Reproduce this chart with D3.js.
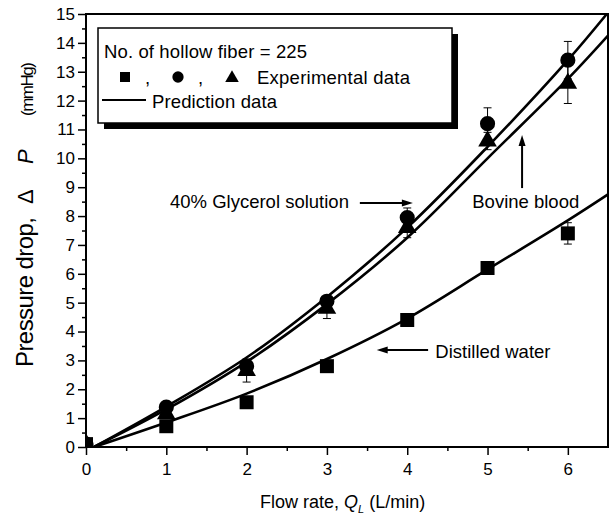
<!DOCTYPE html>
<html>
<head>
<meta charset="utf-8">
<script src="https://cdn.jsdelivr.net/npm/d3@7"></script>
<style>
  body { margin: 0; background: #fff; }
  svg { display: block; font-family: "Liberation Sans", Arial, sans-serif; }
</style>
</head>
<body>
<div id="chart"></div>
<script>
// flow rate (L/min) of the measured points
const flowRates = [0, 1, 2, 3, 4, 5, 6];

// measured pressure drop (mmHg)
const waterData = [0.1, 0.72, 1.55, 2.8, 4.4, 6.2, 7.4];
const waterErr = [0, 0.05, 0.1, 0.1, 0.1, 0.1, 0.37];
const glycerolData = [0.1, 1.38, 2.8, 5.05, 7.95, 11.2, 13.4];
const glycerolErr = [0, 0.1, 0.1, 0.15, 0.33, 0.55, 0.65];
const bloodData = [0.1, 1.15, 2.65, 4.8, 7.6, 10.6, 12.6];
const bloodErr = [0, 0.1, 0.4, 0.35, 0.35, 0.3, 0.7];

// prediction curves
const predFlow = [0.1, 1, 2, 3, 4, 5, 6, 6.5];
const predWater = [0, 0.85, 1.85, 3.05, 4.45, 6.15, 7.85, 8.75];
const predGlycerol = [0, 1.4, 3.1, 5.2, 7.6, 10.4, 13.4, 15.05];
const predBlood = [0, 1.3, 2.95, 4.95, 7.25, 10.0, 12.75, 14.25];

const xTicks = [0, 1, 2, 3, 4, 5, 6];
const yTicks = d3.range(0, 16);

const W = 613, H = 520;
const margin = { top: 14, right: 5, bottom: 73, left: 86 };

const svg = d3.select('#chart').append('svg')
  .attr('width', W).attr('height', H);
svg.append('rect').attr('width', W).attr('height', H).attr('fill', '#fff');

const x = d3.scaleLinear().domain([0, 6.5]).range([margin.left, W - margin.right]);
const y = d3.scaleLinear().domain([0, 15]).range([H - margin.bottom, margin.top]);

// clip for data
svg.append('clipPath').attr('id', 'plot')
  .append('rect')
  .attr('x', x(0)).attr('y', y(15))
  .attr('width', x(6.5) - x(0)).attr('height', y(0) - y(15));

// minor ticks
svg.append('g')
  .attr('transform', `translate(${x(0)},0)`)
  .call(d3.axisLeft(y).tickValues(d3.range(0.5, 15, 1)).tickSize(4).tickFormat(''))
  .call(g => g.select('.domain').remove());
svg.append('g')
  .attr('transform', `translate(0,${y(0)})`)
  .call(d3.axisBottom(x).tickValues(d3.range(0.5, 6.5, 1)).tickSize(4).tickFormat(''))
  .call(g => g.select('.domain').remove());

// major ticks
svg.append('g')
  .attr('transform', `translate(${x(0)},0)`)
  .call(d3.axisLeft(y).tickValues(yTicks).tickSize(8).tickPadding(3).tickFormat(d3.format('d')))
  .call(g => g.select('.domain').remove());
svg.append('g')
  .attr('transform', `translate(0,${y(0)})`)
  .call(d3.axisBottom(x).tickValues(xTicks).tickSize(8).tickPadding(8).tickFormat(d3.format('d')))
  .call(g => g.select('.domain').remove());

svg.selectAll('.tick line').attr('stroke', '#000').attr('stroke-width', 1.5);
svg.selectAll('.tick text')
  .attr('font-size', 17)
  .attr('font-family', '"Liberation Sans", Arial, sans-serif')
  .attr('fill', '#000');

// frame
svg.append('rect')
  .attr('x', x(0)).attr('y', y(15))
  .attr('width', x(6.5) - x(0)).attr('height', y(0) - y(15))
  .attr('fill', 'none').attr('stroke', '#000').attr('stroke-width', 2);

// prediction curves
const plot = svg.append('g').attr('clip-path', 'url(#plot)');
const line = d3.line()
  .x((d, i) => x(predFlow[i]))
  .y(d => y(d))
  .curve(d3.curveCatmullRom);

[predWater, predGlycerol, predBlood].forEach(s => {
  plot.append('path')
    .datum(s)
    .attr('d', line)
    .attr('fill', 'none')
    .attr('stroke', '#000')
    .attr('stroke-width', 2.6);
});

// experimental points with error bars
const series = [
  { vals: bloodData, err: bloodErr, sym: d3.symbolTriangle, size: 150 },
  { vals: glycerolData, err: glycerolErr, sym: d3.symbolCircle, size: 180 },
  { vals: waterData, err: waterErr, sym: d3.symbolSquare, size: 196 }
];

series.forEach(s => {
  const g = plot.append('g');
  s.vals.forEach((v, i) => {
    if (s.err[i] > 0.15) {
      g.append('line')
        .attr('x1', x(flowRates[i])).attr('x2', x(flowRates[i]))
        .attr('y1', y(v - s.err[i])).attr('y2', y(v + s.err[i]))
        .attr('stroke', '#000').attr('stroke-width', 1);
      [v - s.err[i], v + s.err[i]].forEach(e => {
        g.append('line')
          .attr('x1', x(flowRates[i]) - 4).attr('x2', x(flowRates[i]) + 4)
          .attr('y1', y(e)).attr('y2', y(e))
          .attr('stroke', '#000').attr('stroke-width', 1);
      });
    }
  });
  g.selectAll('path')
    .data(s.vals)
    .join('path')
    .attr('transform', (d, i) => `translate(${x(flowRates[i])},${y(d)})`)
    .attr('d', d3.symbol().type(s.sym).size(s.size))
    .attr('fill', '#000');
});

// legend
const lx = 98, ly = 28, lw = 354, lh = 95;
svg.append('rect').attr('x', lx + 6).attr('y', ly + 6).attr('width', lw).attr('height', lh).attr('fill', '#000');
svg.append('rect').attr('x', lx).attr('y', ly).attr('width', lw).attr('height', lh)
  .attr('fill', '#fff').attr('stroke', '#000').attr('stroke-width', 1.5);

const leg = svg.append('g').attr('font-size', 18.5).attr('fill', '#000');
leg.append('text').attr('x', 104).attr('y', 58).attr('textLength', 203).text('No. of hollow fiber = 225');
leg.append('path').attr('transform', 'translate(125,77)').attr('d', d3.symbol().type(d3.symbolSquare).size(100));
leg.append('text').attr('x', 145).attr('y', 84).text(',');
leg.append('path').attr('transform', 'translate(178,77)').attr('d', d3.symbol().type(d3.symbolCircle).size(100));
leg.append('text').attr('x', 198).attr('y', 84).text(',');
leg.append('path').attr('transform', 'translate(232,78)').attr('d', d3.symbol().type(d3.symbolTriangle).size(80));
leg.append('text').attr('x', 257).attr('y', 84).attr('textLength', 153).text('Experimental data');
leg.append('line').attr('x1', 102).attr('x2', 146).attr('y1', 100).attr('y2', 100)
  .attr('stroke', '#000').attr('stroke-width', 2);
leg.append('text').attr('x', 152).attr('y', 108).attr('textLength', 125).text('Prediction data');

// annotations
const ann = svg.append('g').attr('font-size', 18.5).attr('fill', '#000');
function arrow(x1, y1, x2, y2) {
  const a = Math.atan2(y2 - y1, x2 - x1);
  const len = 11, hw = 3.5;
  ann.append('line').attr('x1', x1).attr('y1', y1)
    .attr('x2', x2 - Math.cos(a) * len * 0.8).attr('y2', y2 - Math.sin(a) * len * 0.8)
    .attr('stroke', '#000').attr('stroke-width', 2);
  const bx = x2 - Math.cos(a) * len, by = y2 - Math.sin(a) * len;
  ann.append('path')
    .attr('d', `M${x2},${y2}L${bx - Math.sin(a) * hw},${by + Math.cos(a) * hw}L${bx + Math.sin(a) * hw},${by - Math.cos(a) * hw}Z`)
    .attr('fill', '#000');
}
ann.append('text').attr('x', x(1.046)).attr('y', y(8.28)).text('40% Glycerol solution');
arrow(x(3.41), y(8.45), x(4.07), y(8.45));
ann.append('text').attr('x', x(4.81)).attr('y', y(8.28)).text('Bovine blood');
arrow(x(5.43), y(8.97), x(5.43), y(10.81));
ann.append('text').attr('x', x(4.35)).attr('y', y(3.08)).text('Distilled water');
arrow(x(4.26), y(3.36), x(3.62), y(3.36));

// axis titles
const xt = svg.append('text').attr('x', 260).attr('y', 508).attr('font-size', 18).attr('fill', '#000');
xt.append('tspan').text('Flow rate, ');
xt.append('tspan').attr('font-style', 'italic').text('Q');
xt.append('tspan').attr('font-size', 11).attr('font-style', 'italic').attr('dy', 5).text('L');
xt.append('tspan').attr('dy', -5).text(' (L/min)');

const yt = svg.append('g').attr('fill', '#000');
yt.append('text').attr('transform', 'translate(33,367) rotate(-90)')
  .attr('font-size', 24).attr('textLength', 150).attr('lengthAdjust', 'spacing')
  .text('Pressure drop,');
yt.append('text').attr('transform', 'translate(33,204) rotate(-90)')
  .attr('font-size', 22).text('\u0394');
yt.append('text').attr('transform', 'translate(33,164) rotate(-90)')
  .attr('font-size', 22).attr('font-style', 'italic').text('P');
yt.append('text').attr('transform', 'translate(33,116) rotate(-90)')
  .attr('font-size', 17).attr('letter-spacing', -1.5)
  .text('(mmHg)');
</script>
</body>
</html>
